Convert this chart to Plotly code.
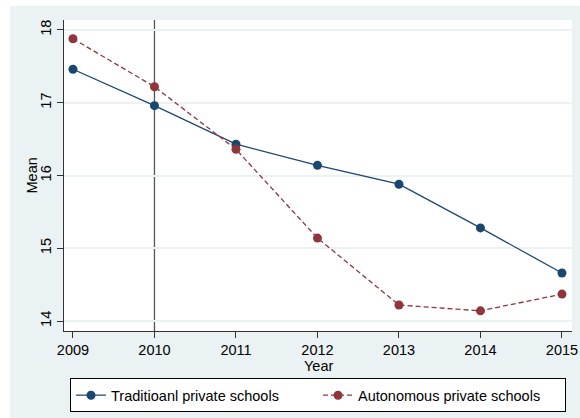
import plotly.graph_objects as go

# Mean score by year for two kinds of private schools
years = [2009, 2010, 2011, 2012, 2013, 2014, 2015]
traditional = [17.46, 16.96, 16.43, 16.14, 15.88, 15.28, 14.66]
autonomous = [17.88, 17.22, 16.36, 15.14, 14.22, 14.14, 14.37]
y_ticks = [14, 15, 16, 17, 18]

NAVY = "#1A476F"
MAROON = "#90353B"
BG = "#EAF2F3"
FONT = "Liberation Sans, Arial, sans-serif"
FS = 14.5

W, H = 580, 418
ML, MR, MT, MB = 64, 8, 20, 87
PW = W - ML - MR
PH = H - MT - MB

fig = go.Figure()
fig.add_trace(go.Scatter(
    x=years, y=traditional, name="Traditioanl private schools",
    mode="lines+markers",
    line=dict(color=NAVY, width=1.3),
    marker=dict(color=NAVY, size=9, symbol="circle"),
))
fig.add_trace(go.Scatter(
    x=years, y=autonomous, name="Autonomous private schools",
    mode="lines+markers",
    line=dict(color=MAROON, width=1.3, dash="5px,3px"),
    marker=dict(color=MAROON, size=9, symbol="circle"),
))

# reference line at 2010
fig.add_vline(x=2010, line=dict(color="#555555", width=1.3), layer="below")

# white strips to the left and above the graph region
fig.add_shape(type="rect", xref="paper", yref="paper",
              x0=-ML / PW, x1=(10 - ML) / PW, y0=-MB / PH, y1=1 + MT / PH,
              fillcolor="white", line_width=0, layer="below")
fig.add_shape(type="rect", xref="paper", yref="paper",
              x0=-ML / PW, x1=1 + MR / PW, y0=1 + (MT - 6) / PH, y1=1 + MT / PH,
              fillcolor="white", line_width=0, layer="below")

# axis titles
fig.add_annotation(text="Mean", xref="paper", yref="paper",
                   x=(31 - ML) / PW, y=0.5, textangle=-90, showarrow=False,
                   xanchor="center", yanchor="middle", font=dict(size=FS))
fig.add_annotation(text="Year", xref="paper", yref="paper",
                   x=0.5, y=-(366 - (H - MB)) / PH, showarrow=False,
                   xanchor="center", yanchor="middle", font=dict(size=FS))

fig.update_layout(
    width=W, height=H,
    margin=dict(l=ML, r=MR, t=MT, b=MB, pad=0, autoexpand=False),
    paper_bgcolor=BG,
    plot_bgcolor="white",
    font=dict(family=FONT, size=FS, color="black"),
    showlegend=True,
    legend=dict(
        orientation="h", x=0.5, xanchor="center", y=-0.152, yanchor="top",
        bgcolor="white", bordercolor="black", borderwidth=1,
        font=dict(size=FS, family=FONT),
        entrywidth=202, entrywidthmode="pixels",
        tracegroupgap=0,
    ),
    xaxis=dict(
        range=[2008.89, 2015.123],
        tickvals=years, ticktext=[str(y) for y in years],
        ticks="outside", ticklen=6, tickwidth=1, tickcolor="#333333",
        showline=True, linecolor="#333333", linewidth=1,
        showgrid=False, zeroline=False,
        tickfont=dict(size=FS),
    ),
    yaxis=dict(
        range=[13.863, 18.137],
        tickvals=y_ticks, ticktext=[str(v) for v in y_ticks],
        tickangle=-90,
        ticks="outside", ticklen=6, tickwidth=1, tickcolor="#333333",
        showline=True, linecolor="#333333", linewidth=1,
        showgrid=True, gridcolor=BG, gridwidth=1.5,
        zeroline=False,
        tickfont=dict(size=FS),
    ),
)

fig.write_html("out.html")
